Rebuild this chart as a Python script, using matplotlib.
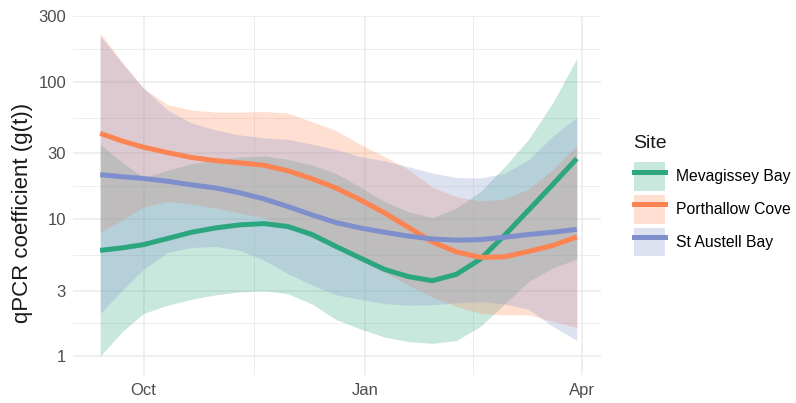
import pandas as pd
import matplotlib
matplotlib.use("Agg")
import matplotlib.pyplot as plt
from matplotlib.patches import Patch
from matplotlib.lines import Line2D
from matplotlib.ticker import NullFormatter

plt.rcParams['font.family'] = ['Liberation Sans', 'DejaVu Sans']

dates = pd.to_datetime([
    "2020-09-13", "2020-09-22", "2020-10-01", "2020-10-11", "2020-10-21",
    "2020-10-31", "2020-11-10", "2020-11-20", "2020-11-30", "2020-12-10",
    "2020-12-20", "2020-12-30", "2021-01-09", "2021-01-19", "2021-01-29",
    "2021-02-08", "2021-02-18", "2021-02-28", "2021-03-10", "2021-03-20",
    "2021-03-30"])

sites = ["Mevagissey Bay", "Porthallow Cove", "St Austell Bay"]
colors = ["#2BA67F", "#FC8452", "#7F8FCC"]

# fitted coefficient and confidence band per site
mev = [5.9, 6.15, 6.5, 7.2, 8.0, 8.6, 9.05, 9.25, 8.8, 7.7, 6.3, 5.2, 4.3, 3.8, 3.55,
       3.95, 5.1, 7.6, 11.6, 17.8, 27.5]
mev_lo = [1.0, 1.5, 2.05, 2.35, 2.6, 2.8, 2.94, 3.0, 2.85, 2.4, 1.85, 1.58, 1.38,
          1.28, 1.24, 1.3, 1.65, 2.4, 3.5, 4.4, 5.1]
mev_hi = [35, 26, 20, 22.6, 25.2, 27.1, 28.2, 28.8, 27.1, 24.7, 21.4, 17.1, 13.4,
          11.3, 10.2, 12, 15.8, 24, 38, 70, 147]

por = [42, 37, 33.3, 30.4, 28, 26.6, 25.6, 24.6, 22.4, 19.6, 16.8, 13.8, 11.1, 8.7,
       6.8, 5.75, 5.25, 5.3, 5.8, 6.4, 7.4]
por_lo = [8.0, 9.8, 12.2, 13.4, 12.8, 12, 11, 10.2, 8.6, 7.3, 6.1, 5.0, 4.1, 3.3,
          2.7, 2.3, 2.05, 2.0, 2.0, 1.8, 1.62]
por_hi = [225, 140, 89, 68, 62, 60, 60, 60.5, 59, 51, 44, 35, 28.5, 23, 17, 14.5,
          13.5, 14, 16.5, 23, 34]

aus = [21, 20.3, 19.7, 18.8, 17.7, 16.8, 15.5, 14.0, 12.3, 10.7, 9.4, 8.6, 8.0, 7.5,
       7.15, 7.0, 7.07, 7.35, 7.7, 8.0, 8.4]
aus_lo = [2.05, 3.0, 4.3, 5.7, 6.2, 6.3, 5.9, 5.0, 4.0, 3.3, 2.8, 2.6, 2.42, 2.35,
          2.37, 2.45, 2.5, 2.4, 2.2, 1.65, 1.3]
aus_hi = [215, 137, 90, 62, 50, 44.4, 40.9, 39, 38, 35, 32, 28.5, 26.5, 24, 21.6,
          20, 19.9, 21.5, 27, 40, 55]

y_ticks = [1, 3, 10, 30, 100, 300]
y_minor = [1.732, 5.477, 17.32, 54.77, 173.2]
x_ticks = pd.to_datetime(["2020-10-01", "2021-01-01", "2021-04-01"])
x_minor = pd.to_datetime(["2020-11-16", "2021-02-15"])
x_labels = ["Oct", "Jan", "Apr"]
x_range = pd.to_datetime(["2020-09-01 17:00", "2021-04-09 02:00"])

fig = plt.figure(figsize=(7.96, 4.03), dpi=100)
ax = fig.add_axes([0.0917, 0.0695, 0.6634, 0.892])

series = [(mev, mev_lo, mev_hi), (por, por_lo, por_hi), (aus, aus_lo, aus_hi)]
for (mid, lo, hi), c in zip(series, colors):
    ax.fill_between(dates, lo, hi, color=c, alpha=0.26, lw=0, zorder=2)
for (mid, lo, hi), c in zip(series, colors):
    ax.plot(dates, mid, color=c, lw=3.6, solid_capstyle='butt',
            solid_joinstyle='round', zorder=3)

ax.set_yscale('log')
ax.set_ylim(0.73, 303)
ax.set_xlim(x_range[0], x_range[1])
ax.set_yticks(y_ticks)
ax.set_yticklabels([str(v) for v in y_ticks])
ax.set_yticks(y_minor, minor=True)
ax.yaxis.set_minor_formatter(NullFormatter())
ax.set_xticks(x_ticks)
ax.set_xticklabels(x_labels)
ax.set_xticks(x_minor, minor=True)

ax.grid(which='major', color='#EBEBEB', lw=1.1, zorder=0)
ax.grid(which='minor', color='#EBEBEB', lw=0.6, zorder=0)
ax.set_axisbelow(True)
for s in ax.spines.values():
    s.set_visible(False)
ax.tick_params(which='both', length=0, labelsize=12, labelcolor='#4D4D4D')
ax.tick_params(axis='x', pad=6)
ax.tick_params(axis='y', pad=5)

fig.text(23 / 796, 1 - 213 / 403, "qPCR coefficient (g(t))", rotation=90,
         ha='center', va='center', fontsize=16, color='#1A1A1A')

# legend: title as plain text, keys as fill + line
fig.text(633 / 796, 1 - 143 / 403, "Site", fontsize=14, ha='left', va='center',
         color='#1A1A1A')
handles = [(Patch(facecolor=c, alpha=0.26, lw=0), Line2D([], [], color=c, lw=3.6))
           for c in colors]
leg = fig.legend(handles, sites, loc='upper left',
                 bbox_to_anchor=(634 / 796, 1 - 162 / 403),
                 frameon=False, fontsize=11.3,
                 handlelength=1.95, handleheight=2.45, labelspacing=0.25,
                 handletextpad=0.7, borderpad=0, borderaxespad=0)

fig.savefig("out.png", dpi=100)
